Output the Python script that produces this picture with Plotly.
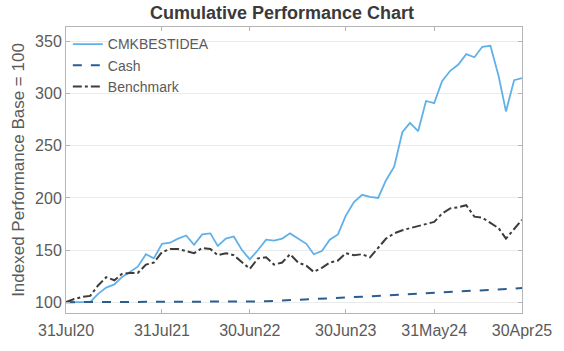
import pandas as pd
import plotly.graph_objects as go

dates = pd.date_range("2020-07-31", "2025-04-30", freq="ME")

cmkbestidea = [100, 100, 100, 100, 108, 114, 117, 124, 129, 134,
               146, 142, 156, 157, 161, 164, 155, 165, 166, 154,
               161, 163, 150, 141, 150, 160, 159, 161, 166, 161,
               156, 146, 149, 160, 165, 183, 196, 203, 201, 200,
               217, 230, 263, 272, 264, 293, 291, 312, 322, 328,
               338, 335, 345, 346, 317, 283, 313, 315]

cash = [100.0, 100.0, 100.0, 100.0, 100.0, 100.0, 100.0, 100.0, 100.0, 100.0,
        100.0, 100.0, 100.0, 100.0, 100.0, 100.0, 100.0, 100.0, 100.0, 100.0,
        100.1, 100.2, 100.3, 100.5, 100.7, 100.9, 101.2, 101.5, 101.8, 102.1,
        102.4, 102.8, 103.2, 103.6, 104.0, 104.4, 104.8, 105.2, 105.6, 106.0,
        106.4, 106.8, 107.2, 107.6, 108.0, 108.4, 108.8, 109.2, 109.6, 110.0,
        110.4, 110.8, 111.2, 111.6, 112.0, 112.5, 113.0, 113.5]

benchmark = [100, 103, 105, 106, 116, 124, 121, 127, 128, 128,
             136, 138, 148, 151, 151, 149, 147, 152, 151, 145,
             147, 145, 138, 132, 142, 143, 136, 138, 146, 138,
             135, 129, 133, 138, 140, 147, 145, 146, 143, 152,
             161, 166, 169, 171, 173, 175, 177, 185, 190, 191,
             193, 182, 181, 176, 171, 161, 170, 179]

tick_dates = ["2020-07-31", "2021-07-31", "2022-06-30", "2023-06-30", "2024-05-31", "2025-04-30"]
tick_labels = ["31Jul20", "31Jul21", "30Jun22", "30Jun23", "31May24", "30Apr25"]
y_ticks = [100, 150, 200, 250, 300, 350]

FONT = "Liberation Sans, Arial, sans-serif"
fig = go.Figure()
fig.add_trace(go.Scatter(x=dates, y=cmkbestidea, mode="lines", name="CMKBESTIDEA",
                         line=dict(color="#62b0e8", width=1.8)))
fig.add_trace(go.Scatter(x=dates, y=cash, mode="lines", name="Cash",
                         line=dict(color="#2c5d8f", width=2, dash="dash")))
fig.add_trace(go.Scatter(x=dates, y=benchmark, mode="lines", name="Benchmark",
                         line=dict(color="#3c3c3c", width=2, dash="dashdot")))

fig.update_layout(
    width=564, height=351,
    margin=dict(l=66, r=37, t=27, b=33),
    paper_bgcolor="white", plot_bgcolor="white",
    font=dict(family=FONT, color="#5a5a5a", size=16),
    title=dict(text="<b>Cumulative Performance Chart</b>", x=0.5, xanchor="center",
               y=1, yanchor="top", pad=dict(t=6),
               font=dict(family=FONT, size=18, color="#3a3a3a")),
    showlegend=True,
    legend=dict(x=0.004, y=0.995, xanchor="left", yanchor="top",
                bgcolor="rgba(255,255,255,0)", font=dict(size=14, color="#5a5a5a"),
                tracegroupgap=0),
)
fig.update_xaxes(
    range=[dates[0], dates[-1]], tickvals=pd.to_datetime(tick_dates), ticktext=tick_labels,
    showgrid=False, showline=True, linecolor="#b5b5b5", linewidth=1, mirror="ticks",
    ticks="inside", ticklen=4, tickcolor="#b5b5b5", zeroline=False,
    ticklabelstandoff=3,
    tickfont=dict(size=16, color="#5a5a5a"),
)
fig.update_yaxes(
    range=[89.6, 364], tickvals=y_ticks,
    showgrid=True, gridcolor="#ebebeb", gridwidth=1,
    showline=True, linecolor="#b5b5b5", linewidth=1, mirror="ticks",
    ticks="inside", ticklen=4, tickcolor="#b5b5b5", zeroline=False,
    tickfont=dict(size=16, color="#5a5a5a"),
    title=dict(text="Indexed Performance Base = 100", font=dict(size=17, color="#5a5a5a"), standoff=6),
)

fig.write_html("out.html")
